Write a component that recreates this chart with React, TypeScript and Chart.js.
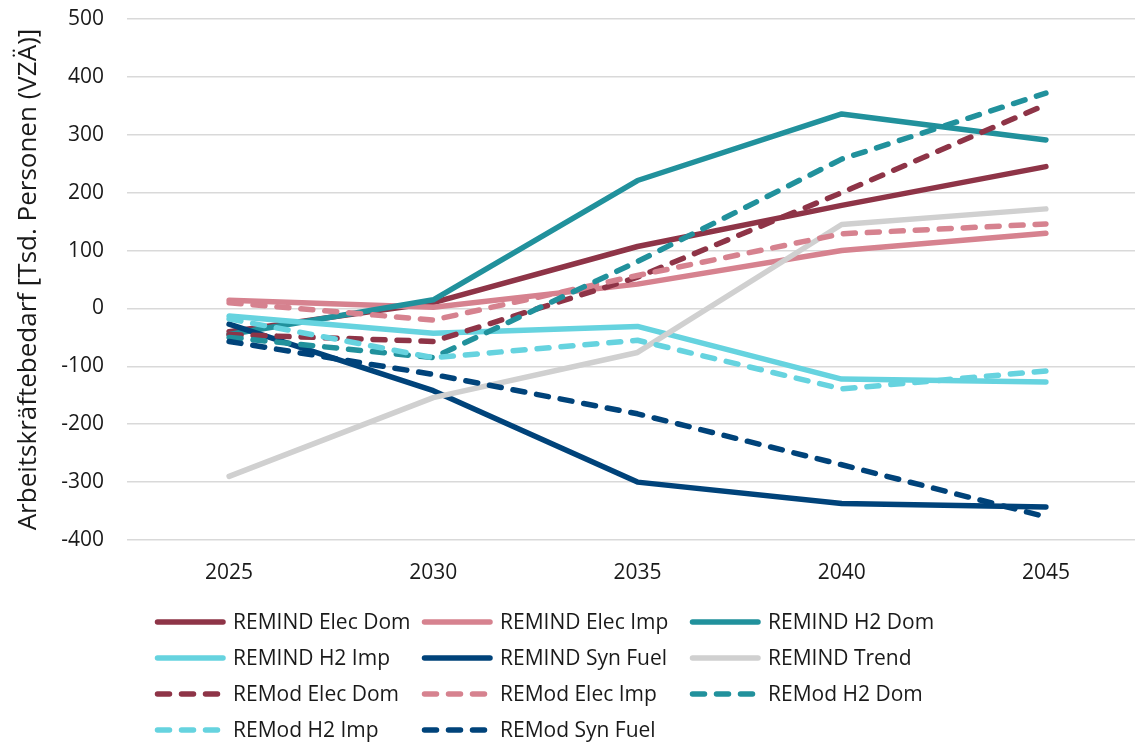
import React, { useEffect, useRef } from "react";
import { Chart, registerables } from "chart.js";

Chart.register(...registerables);

const years = ["2025", "2030", "2035", "2040", "2045"];

const remindElecDom = [-40, 10, 107, 178, 245];
const remindElecImp = [14, 2, 42, 100, 130];
const remindH2Dom = [-45, 15, 221, 336, 291];
const remindH2Imp = [-13, -43, -31, -122, -127];
const remindSynFuel = [-27, -142, -300, -337, -343];
const remindTrend = [-290, -154, -76, 145, 172];
const remodElecDom = [-45, -57, 54, 200, 352];
const remodElecImp = [10, -20, 57, 129, 146];
const remodH2Dom = [-50, -85, 81, 258, 372];
const remodH2Imp = [-18, -85, -55, -139, -108];
const remodSynFuel = [-57, -114, -182, -270, -360];

const yTicks = [-400, -300, -200, -100, 0, 100, 200, 300, 400, 500];

const C_ELEC_DOM = "#8E3447";
const C_ELEC_IMP = "#D6828F";
const C_H2_DOM = "#21919C";
const C_H2_IMP = "#66D3DF";
const C_SYN = "#00437A";
const C_TREND = "#D0D0D0";

const seriesDefs = [
  { label: "REMIND Elec Dom", data: remindElecDom, color: C_ELEC_DOM, dashed: false },
  { label: "REMIND Elec Imp", data: remindElecImp, color: C_ELEC_IMP, dashed: false },
  { label: "REMIND H2 Dom", data: remindH2Dom, color: C_H2_DOM, dashed: false },
  { label: "REMIND H2 Imp", data: remindH2Imp, color: C_H2_IMP, dashed: false },
  { label: "REMIND Syn Fuel", data: remindSynFuel, color: C_SYN, dashed: false },
  { label: "REMIND Trend", data: remindTrend, color: C_TREND, dashed: false },
  { label: "REMod Elec Dom", data: remodElecDom, color: C_ELEC_DOM, dashed: true },
  { label: "REMod Elec Imp", data: remodElecImp, color: C_ELEC_IMP, dashed: true },
  { label: "REMod H2 Dom", data: remodH2Dom, color: C_H2_DOM, dashed: true },
  { label: "REMod H2 Imp", data: remodH2Imp, color: C_H2_IMP, dashed: true },
  { label: "REMod Syn Fuel", data: remodSynFuel, color: C_SYN, dashed: true },
];

const FONT = "'Open Sans', 'Liberation Sans', sans-serif";
const DASH = [12, 12];
const LINE_W = 5.5;

const gridLegend = {
  id: "gridLegend",
  afterDraw(chart: any) {
    const ctx = chart.ctx;
    const colX = [155, 422, 690];
    const rowY0 = 622;
    const rowH = 36;
    ctx.save();
    chart.data.datasets.forEach((ds: any, i: number) => {
      const col = i % 3;
      const row = Math.floor(i / 3);
      const x = colX[col];
      const y = rowY0 + row * rowH;
      ctx.strokeStyle = ds.borderColor;
      ctx.lineWidth = LINE_W;
      ctx.lineCap = "round";
      ctx.setLineDash(ds.borderDash && ds.borderDash.length ? ds.borderDash : []);
      ctx.beginPath();
      ctx.moveTo(x + 2.5, y);
      ctx.lineTo(x + 68, y);
      ctx.stroke();
      ctx.setLineDash([]);
      ctx.fillStyle = "#1a1a1a";
      ctx.font = `21px ${FONT}`;
      ctx.textAlign = "left";
      ctx.textBaseline = "middle";
      ctx.fillText(ds.label, x + 78, y + 1);
    });
    ctx.restore();
  },
};

export default function App() {
  const ref = useRef<HTMLCanvasElement | null>(null);

  useEffect(() => {
    if (!ref.current) return;
    const chart = new Chart(ref.current, {
      type: "line",
      data: {
        labels: years,
        datasets: seriesDefs.map((s, i) => ({
          label: s.label,
          data: s.data,
          borderColor: s.color,
          backgroundColor: s.color,
          borderWidth: LINE_W,
          borderDash: s.dashed ? DASH : [],
          borderCapStyle: "round",
          borderJoinStyle: "round",
          pointRadius: 0,
          tension: 0,
          fill: false,
          order: -i,
        })),
      },
      options: {
        responsive: false,
        animation: false,
        layout: { padding: { left: 0, right: 12, top: 19, bottom: 0 } },
        plugins: {
          legend: { display: false },
          tooltip: { enabled: false },
        },
        scales: {
          x: {
            offset: true,
            grid: { display: false, drawTicks: false },
            border: { display: false },
            ticks: {
              color: "#1a1a1a",
              font: { family: FONT, size: 21 },
              padding: 20,
              maxRotation: 0,
            },
            afterFit: (s: any) => {
              s.height = 202;
            },
          },
          y: {
            min: -400,
            max: 500,
            afterBuildTicks: (s: any) => {
              s.ticks = yTicks.map((v) => ({ value: v }));
            },
            grid: {
              color: "#D9D9D9",
              lineWidth: 1.5,
              drawTicks: true,
              tickLength: 23,
              tickColor: "rgba(0,0,0,0)",
            },
            border: { display: false },
            ticks: {
              color: "#1a1a1a",
              font: { family: FONT, size: 21 },
              padding: 0,
            },
            title: {
              display: true,
              text: "Arbeitskräftebedarf [Tsd. Personen (VZÄ)]",
              color: "#1a1a1a",
              font: { family: FONT, size: 26 },
              padding: { top: 13, bottom: 0 },
            },
            afterFit: (s: any) => {
              s.width = 127;
            },
          },
        },
      },
      plugins: [gridLegend],
    });
    return () => chart.destroy();
  }, []);

  return (
    <div
      style={{
        position: "fixed",
        left: 0,
        top: 0,
        width: 1135,
        height: 742,
        overflow: "hidden",
        background: "#fff",
      }}
    >
      <canvas ref={ref} width={1160} height={742} style={{ display: "block" }} />
    </div>
  );
}
